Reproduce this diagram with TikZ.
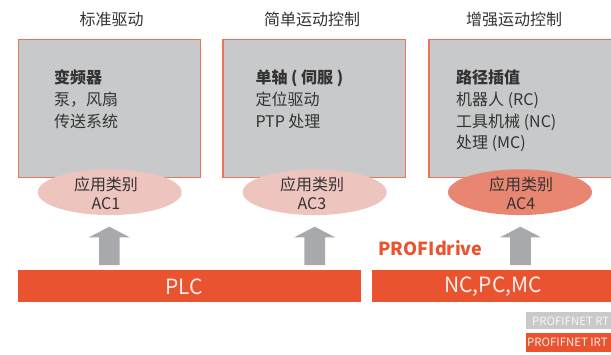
\documentclass[tikz,border=0pt]{standalone}
\usepackage{fontspec}
\setmainfont{Noto Sans CJK SC}
\usetikzlibrary{shapes.geometric}
\definecolor{boxfill}{HTML}{C8C9CA}
\definecolor{boxline}{HTML}{EC7356}
\definecolor{barred}{HTML}{E9532F}
\definecolor{arrowgray}{HTML}{A8A9AD}
\definecolor{elllight}{HTML}{EEC4BE}
\definecolor{elldark}{HTML}{E98671}
\definecolor{txt}{HTML}{333333}
\definecolor{legendgray}{HTML}{C9C9C9}
\begin{document}
\begin{tikzpicture}[x=1pt,y=-1pt,
  title/.style={font=\fontsize{16}{19}\selectfont, text=txt, inner sep=0pt},
  panel/.style={draw=boxline, line width=1.3pt, fill=boxfill, minimum width=182.4pt, minimum height=138pt, inner sep=0pt},
  line/.style={anchor=west, inner sep=0pt, text height=0.88em, text depth=0.12em, font=\fontsize{16}{19}\selectfont, text=txt},
  boldline/.style={line, font=\fontsize{16}{19}\selectfont\bfseries},
  ac/.style={ellipse, minimum width=144pt, minimum height=45.7pt, inner sep=0pt},
  actext/.style={align=center, font=\fontsize{16}{19.3}\selectfont, text=txt, inner sep=0pt},
  blockarrow/.style={fill=arrowgray},
  bar/.style={fill=barred, minimum height=31.7pt, inner sep=0pt},
  bartext/.style={font=\fontsize{21}{24}\selectfont, text=white!90!barred, inner sep=0pt},
  legend/.style={anchor=west, inner sep=0pt, font=\fontsize{11.4}{13}\selectfont}
]
\clip (0,0) rectangle (611,354);

% titles
\node[title] (t1) at (111.6,19.3) {标准驱动};
\node[title] (t2) at (312,19.3) {简单运动控制};
\node[title] (t3) at (514,19.3) {增强运动控制};

% panels
\node[panel] (b1) at (109.5,108.3) {};
\node[panel] (b2) at (314.3,108.3) {};
\node[panel] (b3) at (520.2,108.3) {};

% panel texts
\node[boldline] (p1a) at (53.8,80) {变频器};
\node[line] (p1b) at (53.8,101.7) {泵，风扇};
\node[line] (p1c) at (53.8,123.3) {传送系统};

\node[boldline] (p2a) at (255.3,80) {单轴 ( 伺服 )};
\node[line] (p2b) at (255.3,101.7) {定位驱动};
\node[line] (p2c) at (255.3,123.3) {PTP 处理};

\node[boldline] (p3a) at (456,80) {路径插值};
\node[line] (p3b) at (456,101.7) {机器人 (RC)};
\node[line] (p3c) at (456,123.3) {工具机械 (NC)};
\node[line] (p3d) at (456,145) {处理 (MC)};

% application classes
\node[ac, fill=elllight] (e1) at (109.7,192.2) {};
\node[ac, fill=elllight] (e2) at (314.7,192.2) {};
\node[ac, fill=elldark] (e3) at (520,192.2) {};
\node[actext] (e1t) at (106,193.6) {应用类别\\AC1};
\node[actext] (e2t) at (312,193.6) {应用类别\\AC3};
\node[actext] (e3t) at (521,193.6) {应用类别\\AC4};

% bars
\node[bar, minimum width=342.2pt] (plc) at (189.4,285.85) {};
\node[bar, minimum width=240pt] (nc) at (492,285.85) {};
\node[bartext] (plct) at (184,286.5) {PLC};
\node[bartext] (nct) at (493,286.5) {NC,PC,MC};

% block arrows (from bars up to the classes)
\foreach \cx in {109.3,314.7,520.5}{
  \fill[blockarrow] (\cx-10.3,265) -- (\cx-10.3,237.3) -- (\cx-20.5,237.3) -- (\cx,226.7)
     -- (\cx+20.5,237.3) -- (\cx+10.3,237.3) -- (\cx+10.3,265) -- cycle;
}

% PROFIdrive
\node[inner sep=0pt, font=\fontsize{18}{21}\selectfont\bfseries, text=barred] (pd) at (430.5,248) {PROFIdrive};

% legend
\fill[legendgray] (526,312.3) rectangle (612,329.3);
\fill[barred] (526,333.3) rectangle (612,351.7);
\node[legend, text=white!85!legendgray] (lg1) at (532,321.2) {PROFIFNET RT};
\node[legend, text=white!90!barred] (lg2) at (527,342.5) {PROFIFNET IRT};
\end{tikzpicture}
\end{document}
